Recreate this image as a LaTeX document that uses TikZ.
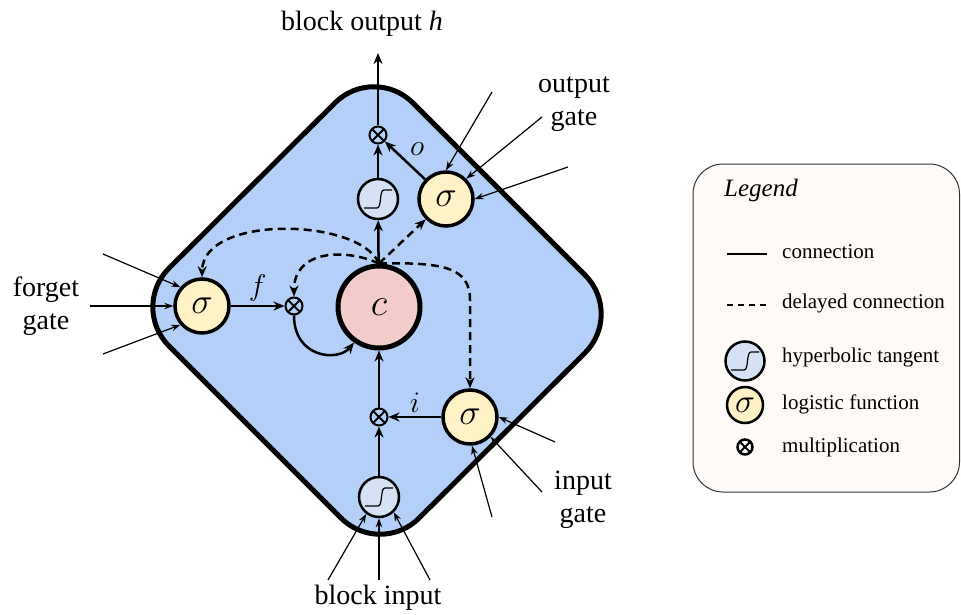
\documentclass[tikz,border=0pt]{standalone}
\usepackage{fontspec}
\setmainfont{Liberation Serif}
\usetikzlibrary{calc,arrows.meta}
\definecolor{blockblue}{RGB}{180,208,248}
\definecolor{sigfill}{RGB}{255,242,199}
\definecolor{cellfill}{RGB}{244,204,204}
\definecolor{tanhfill}{RGB}{213,225,244}
\definecolor{legfill}{RGB}{254,250,248}

\begin{document}
\begin{tikzpicture}[x=1pt,y=-1pt,
    block/.style={draw,line width=5pt,fill=blockblue,rounded corners=55pt},
    gate/.style={circle,draw,line width=3.5pt,fill=sigfill,minimum size=54pt,inner sep=0pt,font=\Huge},
    cellnode/.style={circle,draw,line width=5pt,fill=cellfill,minimum size=82pt,inner sep=0pt,font=\Huge},
    squash/.style={circle,draw,line width=2.5pt,fill=tanhfill,minimum size=40pt,inner sep=0pt,
        path picture={\draw[line width=1.2pt] ($(path picture bounding box.center)+(-14pt,-9pt)$) -- ++(13pt,0pt)
            .. controls +(5pt,0pt) and +(-5pt,0pt) .. ++(7pt,18pt) -- ++(8pt,0pt);}},
    mult/.style={circle,draw,line width=2pt,minimum size=17pt,inner sep=0pt,
        path picture={\draw[line width=2pt] (path picture bounding box.north west) -- (path picture bounding box.south east)
            (path picture bounding box.north east) -- (path picture bounding box.south west);}},
    conn/.style={line width=2.5pt,-{Stealth[length=11pt,width=9pt]}},
    delayed/.style={conn,dash pattern=on 8pt off 5pt},
    feed/.style={line width=1.2pt,-{Stealth[length=9pt,width=6.5pt]}},
    lbl/.style={align=center,inner sep=1pt,font={\fontsize{28}{33}\selectfont}},
    varlbl/.style={inner sep=1pt,font=\Huge},
    legtxt/.style={anchor=base west,inner sep=0pt,font={\fontsize{21}{24}\selectfont}}]

    \useasboundingbox (0,0) rectangle (961,615);

    % memory block
    \draw[block] (374,64) -- (624,314) -- (380,557) -- (130,307) -- cycle;

    % units
    \node[gate] (fgate) at (202,306) {\scalebox{1.45}{$\sigma$}};
    \node[gate] (ogate) at (446,199) {\scalebox{1.45}{$\sigma$}};
    \node[gate] (igate) at (470,417) {\scalebox{1.45}{$\sigma$}};
    \node[cellnode] (cell) at (379,307) {\scalebox{1.55}{$c$}};
    \node[squash] (ttanh) at (378,199) {};
    \node[squash] (itanh) at (379,497) {};
    \node[mult] (fmult) at (294,306) {};
    \node[mult] (omult) at (378,135) {};
    \node[mult] (imult) at (379,417) {};
    \coordinate (hout) at (378,53);

    % solid connections
    \draw[conn] (fgate) -- node[midway,above=2pt,varlbl] {\scalebox{1.2}{$f$}} (fmult);
    \draw[conn] (fmult.south) .. controls (294,358) and (338,362) .. (cell.235);
    \draw[conn] (itanh) -- (imult);
    \draw[conn] (imult) -- (cell);
    \draw[conn] (igate) -- node[midway,above=2pt,varlbl] {\scalebox{1.2}{$i$}} (imult);
    \draw[conn] (cell) -- (ttanh);
    \draw[conn] (ttanh) -- (omult);
    \draw[conn] (ogate) -- node[midway,above right=3pt,varlbl] {\scalebox{1.2}{$o$}} (omult);
    \draw[conn] (omult) -- (hout);

    % peephole connections
    \draw[delayed] (cell.north) .. controls (360,218) and (203,214) .. (fgate.north);
    \draw[delayed] (cell.north) .. controls (345,248) and (294,250) .. (fmult.north);
    \draw[delayed] (cell.north) -- (ogate.south west);
    \draw[delayed] (cell.north) .. controls (445,262) and (470,268) .. (470,300) -- (igate.north);

    % inputs
    \coordinate (f1) at (103,254);
    \coordinate (f2) at (90,306);
    \coordinate (f3) at (103,354);
    \draw[feed] (f1) -- (fgate.139);
    \draw[feed] (f2) -- (fgate.west);
    \draw[feed] (f3) -- (fgate.221);
    \coordinate (o1) at (492,92);
    \coordinate (o2) at (542,117);
    \coordinate (o3) at (568,167);
    \draw[feed] (o1) -- (ogate.north);
    \draw[feed] (o2) -- (ogate.45);
    \draw[feed] (o3) -- (ogate.east);
    \coordinate (i1) at (555,442);
    \coordinate (i2) at (542,492);
    \coordinate (i3) at (492,517);
    \draw[feed] (i1) -- (igate.east);
    \draw[feed] (i2) -- (igate.316);
    \draw[feed] (i3) -- (igate.274);
    \coordinate (b1) at (328,580);
    \coordinate (b2) at (379,580);
    \coordinate (b3) at (430,580);
    \draw[feed] (b1) -- (itanh.233);
    \draw[feed] (b2) -- (itanh.south);
    \draw[feed] (b3) -- (itanh.314);

    % labels
    \node[lbl] (forgetlbl) at (46,306) {forget\\gate};
    \node[lbl] (outputlbl) at (574,104) {output\\gate};
    \node[lbl] (inputlbl) at (583,500) {input\\gate};
    \node[lbl] (houtlbl) at (362,24) {block output \textit{h}};
    \node[lbl] (binlbl) at (378,598) {block input};

    % legend
    \draw[draw=black!80,line width=1pt,fill=legfill,rounded corners=30pt] (693,164) rectangle (959.5,492);
    \node[legtxt,font={\fontsize{25}{28}\selectfont\itshape}] (legtitle) at (724,196) {Legend};
    \draw[line width=2pt] (727,254) -- (767,254);
    \node[legtxt] (lconn) at (782,258) {connection};
    \draw[line width=2pt,dash pattern=on 6pt off 5pt] (727,305) -- (767,305);
    \node[legtxt] (ldelay) at (782,308) {delayed connection};
    \node[squash,minimum size=39pt] (ltanh) at (745,361) {};
    \node[legtxt] (ltanhtxt) at (782,362) {hyperbolic tangent};
    \node[gate,minimum size=36pt,line width=2.5pt] (lsig) at (745,405) {\scalebox{1.35}{$\sigma$}};
    \node[legtxt] (lsigtxt) at (782,409) {logistic function};
    \node[mult,minimum size=15pt,line width=2.5pt] (lmult) at (745,447) {};
    \node[legtxt] (lmulttxt) at (782,452) {multiplication};
\end{tikzpicture}
\end{document}
